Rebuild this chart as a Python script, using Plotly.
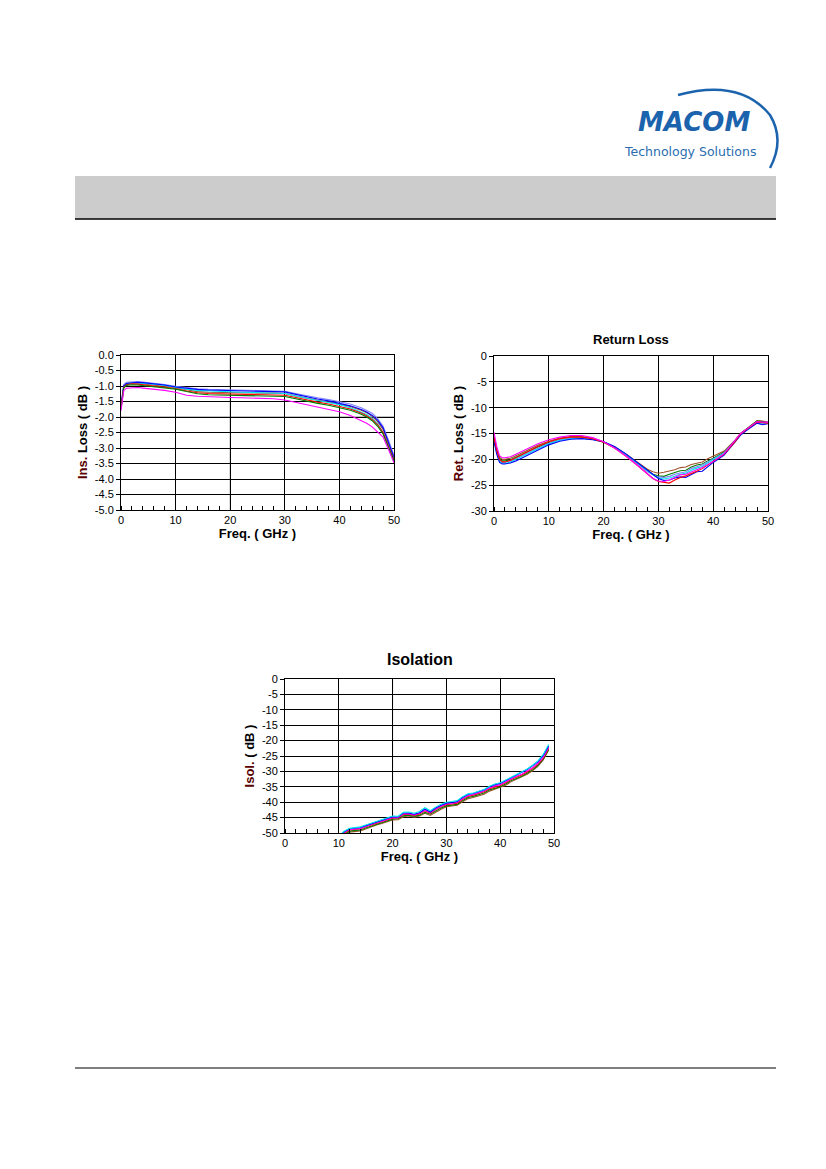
import plotly.graph_objects as go

W, H = 826, 1169

# ---------------- Insertion loss data ----------------
il_freq = [0, 0.5, 1, 2, 3, 4, 6, 8, 10, 12, 14, 16, 18, 20, 22, 24, 26, 28, 30,
           32, 34, 36, 38, 40, 42, 44, 45, 46, 47, 48, 49, 49.5, 50]
il_violet = [-1.60, -0.95, -0.88, -0.86, -0.86, -0.87, -0.90, -0.95, -1.01, -1.06, -1.09, -1.11, -1.12, -1.13, -1.14, -1.15, -1.15, -1.16, -1.17,
             -1.24, -1.32, -1.38, -1.44, -1.50, -1.58, -1.70, -1.78, -1.88, -2.05, -2.30, -2.75, -3.00, -3.25]
il_blue = [-1.65, -1.00, -0.92, -0.89, -0.88, -0.89, -0.92, -0.97, -1.03, -1.08, -1.11, -1.13, -1.14, -1.15, -1.16, -1.16, -1.17, -1.17, -1.19,
           -1.27, -1.35, -1.42, -1.48, -1.55, -1.64, -1.76, -1.84, -1.95, -2.10, -2.35, -2.80, -3.05, -3.30]
il_cyan = [-1.70, -1.02, -0.93, -0.90, -0.90, -0.91, -0.94, -0.98, -1.05, -1.10, -1.14, -1.16, -1.18, -1.19, -1.20, -1.21, -1.22, -1.22, -1.24,
           -1.32, -1.40, -1.47, -1.53, -1.60, -1.70, -1.83, -1.92, -2.04, -2.22, -2.50, -2.95, -3.25, -3.45]
il_brown = [-1.68, -1.00, -0.92, -0.90, -0.91, -0.93, -0.96, -1.00, -1.05, -1.12, -1.18, -1.20, -1.21, -1.22, -1.22, -1.23, -1.23, -1.23, -1.24,
            -1.32, -1.40, -1.46, -1.52, -1.58, -1.66, -1.78, -1.86, -1.98, -2.15, -2.40, -2.85, -3.10, -3.35]
il_red = [-1.72, -1.05, -0.96, -0.93, -0.94, -0.96, -0.99, -1.03, -1.08, -1.16, -1.22, -1.24, -1.25, -1.26, -1.27, -1.27, -1.28, -1.28, -1.30,
          -1.37, -1.45, -1.52, -1.58, -1.65, -1.74, -1.87, -1.96, -2.08, -2.25, -2.50, -2.95, -3.20, -3.40]
il_green = [-1.75, -1.07, -0.98, -0.96, -0.97, -0.99, -1.02, -1.06, -1.10, -1.18, -1.25, -1.28, -1.29, -1.30, -1.31, -1.31, -1.32, -1.32, -1.34,
            -1.41, -1.49, -1.56, -1.62, -1.69, -1.78, -1.91, -2.00, -2.12, -2.30, -2.55, -3.00, -3.22, -3.42]
il_magenta = [-1.80, -1.15, -1.07, -1.05, -1.05, -1.07, -1.10, -1.14, -1.20, -1.30, -1.33, -1.35, -1.36, -1.37, -1.38, -1.39, -1.40, -1.41, -1.45,
              -1.53, -1.61, -1.68, -1.75, -1.83, -1.95, -2.10, -2.20, -2.32, -2.48, -2.65, -3.05, -3.30, -3.48]

# ---------------- Return loss data ----------------
rl_freq = [0, 0.5, 1, 1.5, 2, 3, 4, 6, 8, 10, 12, 14, 16, 18, 20, 22, 24, 26, 28, 29, 30,
           31, 32, 33, 34, 35, 36, 37, 38, 39, 40, 42, 44, 45, 46, 47, 48, 49, 50]
rl_magenta = [-14.8, -17.5, -19.3, -19.7, -19.7, -19.5, -19.0, -18.0, -17.0, -16.2, -15.7, -15.4, -15.4, -15.8, -16.6, -17.8, -19.3, -21.0, -22.9, -23.7, -24.2,
              -24.3, -24.0, -23.5, -23.0, -22.9, -22.4, -22.0, -21.6, -21.0, -20.4, -18.9, -16.4, -15.0, -14.2, -13.4, -12.7, -12.8, -12.8]
rl_brown = [-15.5, -18.0, -19.6, -20.0, -20.0, -19.8, -19.3, -18.3, -17.3, -16.5, -15.9, -15.6, -15.6, -15.9, -16.6, -17.6, -18.9, -20.4, -21.9, -22.4, -22.7,
            -22.5, -22.3, -22.0, -21.6, -21.5, -21.0, -20.8, -20.5, -19.9, -19.4, -18.4, -16.3, -15.0, -14.2, -13.3, -12.5, -12.6, -12.8]
rl_green = [-16.0, -18.3, -19.8, -20.3, -20.3, -20.1, -19.6, -18.6, -17.6, -16.8, -16.2, -15.9, -15.9, -16.1, -16.7, -17.7, -19.0, -20.6, -22.2, -22.9, -23.2,
            -23.3, -22.9, -22.5, -22.2, -22.1, -21.5, -21.1, -20.9, -20.3, -19.8, -18.6, -16.4, -15.0, -14.2, -13.4, -12.6, -12.7, -12.9]
rl_red = [-15.8, -18.3, -20.0, -20.5, -20.5, -20.2, -19.7, -18.6, -17.5, -16.6, -16.0, -15.7, -15.7, -16.0, -16.7, -17.8, -19.3, -21.0, -22.9, -23.7, -24.3,
          -24.5, -24.6, -24.0, -23.5, -23.2, -22.8, -22.3, -21.8, -21.1, -20.5, -19.0, -16.6, -15.1, -14.3, -13.5, -12.8, -12.9, -13.0]
rl_violet = [-16.1, -18.6, -20.2, -20.6, -20.6, -20.3, -19.8, -18.8, -17.8, -16.9, -16.2, -15.9, -15.9, -16.1, -16.6, -17.6, -19.0, -20.7, -22.4, -23.0, -23.4,
             -23.5, -23.3, -22.9, -22.6, -22.4, -21.8, -21.4, -21.1, -20.5, -19.9, -18.7, -16.5, -15.1, -14.3, -13.5, -12.8, -13.0, -12.9]
rl_cyan = [-16.2, -18.8, -20.4, -20.8, -20.8, -20.5, -20.0, -19.0, -17.9, -17.0, -16.3, -16.0, -15.9, -16.1, -16.6, -17.6, -19.0, -20.6, -22.3, -23.0, -23.6,
           -23.8, -23.6, -23.2, -22.9, -22.7, -22.1, -21.7, -21.4, -20.7, -20.1, -18.8, -16.6, -15.2, -14.4, -13.6, -12.9, -13.2, -12.8]
rl_blue = [-16.5, -19.0, -20.6, -20.9, -20.9, -20.7, -20.3, -19.3, -18.2, -17.2, -16.5, -16.1, -16.0, -16.2, -16.6, -17.5, -18.9, -20.5, -22.2, -23.0, -23.7,
           -24.1, -24.0, -23.6, -23.4, -23.5, -23.0, -22.4, -22.3, -21.4, -20.6, -19.2, -16.7, -15.3, -14.5, -13.7, -13.0, -13.3, -13.1]

# ---------------- Isolation data ----------------
iso_freq = [10, 11, 12, 13, 14, 15, 16, 17, 18, 19, 20, 21, 22, 23, 24, 25, 26, 27, 28, 29,
            30, 31, 32, 33, 34, 35, 36, 37, 38, 39, 40, 41, 42, 43, 44, 45, 46, 47, 48, 49]
iso_cyan = [-51.0, -49.4, -48.5, -48.3, -48.0, -47.4, -46.8, -46.2, -45.8, -45.0, -44.5, -44.6, -43.3, -43.2, -43.6, -43.0, -41.8, -42.8, -41.6, -40.7,
            -40.0, -39.8, -39.5, -38.2, -37.3, -37.0, -36.4, -35.9, -34.8, -34.1, -33.7, -32.8, -31.8, -30.9, -30.2, -29.2, -28.0, -26.6, -24.5, -21.3]
iso_blue = [-51.2, -49.6, -48.6, -48.4, -48.2, -47.6, -47.0, -46.4, -46.0, -45.2, -44.7, -44.8, -43.5, -43.5, -43.9, -43.4, -42.2, -43.2, -41.9, -41.0,
            -40.3, -40.1, -39.8, -38.5, -37.5, -37.2, -36.6, -36.0, -35.0, -34.3, -33.9, -33.0, -32.0, -31.1, -30.4, -29.4, -28.2, -26.9, -24.8, -21.8]
iso_magenta = [-51.5, -49.8, -48.9, -48.8, -48.5, -47.9, -47.2, -46.6, -46.2, -45.5, -45.0, -45.0, -43.8, -43.7, -44.1, -43.6, -42.6, -43.4, -42.2, -41.3,
               -40.6, -40.4, -40.0, -38.9, -37.9, -37.5, -37.0, -36.4, -35.4, -34.7, -34.3, -33.4, -32.4, -31.6, -30.9, -29.9, -28.8, -27.4, -25.4, -22.2]
iso_red = [-51.6, -50.0, -49.0, -48.9, -48.6, -48.0, -47.4, -46.8, -46.4, -45.7, -45.2, -45.1, -44.0, -43.9, -44.3, -43.8, -42.8, -43.6, -42.4, -41.5,
           -40.8, -40.6, -40.3, -39.1, -38.1, -37.7, -37.2, -36.6, -35.6, -35.0, -34.6, -33.7, -32.6, -31.9, -31.2, -30.2, -29.1, -27.7, -25.7, -22.5]
iso_green = [-52.0, -50.4, -49.4, -49.2, -49.0, -48.4, -47.8, -47.1, -46.7, -46.0, -45.5, -45.4, -44.4, -44.2, -44.6, -44.2, -43.3, -43.9, -42.8, -41.9,
             -41.2, -41.0, -40.7, -39.5, -38.5, -38.1, -37.6, -37.0, -36.0, -35.4, -35.0, -34.1, -33.0, -32.3, -31.6, -30.6, -29.5, -28.1, -26.0, -22.8]
iso_brown = [-52.3, -50.8, -49.7, -49.5, -49.3, -48.7, -48.0, -47.4, -46.9, -46.3, -45.8, -45.7, -44.7, -44.5, -44.9, -44.5, -43.6, -44.3, -43.2, -42.3,
             -41.5, -41.3, -41.0, -39.9, -38.9, -38.5, -38.0, -37.4, -36.4, -35.8, -35.3, -34.5, -33.4, -32.6, -31.9, -30.9, -29.8, -28.4, -26.3, -23.1]

# tick values / labels
il_yticks = [0.0, -0.5, -1.0, -1.5, -2.0, -2.5, -3.0, -3.5, -4.0, -4.5, -5.0]
il_ylabels = ["0.0", "-0.5", "-1.0", "-1.5", "-2.0", "-2.5", "-3.0", "-3.5", "-4.0", "-4.5", "-5.0"]
rl_yticks = [0, -5, -10, -15, -20, -25, -30]
iso_yticks = [0, -5, -10, -15, -20, -25, -30, -35, -40, -45, -50]
x_ticks = [0, 10, 20, 30, 40, 50]

COL = {
    "violet": "#8080ff", "blue": "#0000ff", "cyan": "#00e5ee", "brown": "#a0522d",
    "red": "#ff0000", "green": "#007f00", "magenta": "#ff00ff",
}

il_series = [("violet", il_violet), ("brown", il_brown), ("cyan", il_cyan), ("blue", il_blue),
             ("red", il_red), ("green", il_green), ("magenta", il_magenta)]
rl_series = [("brown", rl_brown), ("green", rl_green), ("violet", rl_violet), ("cyan", rl_cyan),
             ("blue", rl_blue), ("red", rl_red), ("magenta", rl_magenta)]
iso_series = [("brown", iso_brown), ("green", iso_green), ("red", iso_red), ("magenta", iso_magenta),
              ("blue", iso_blue), ("cyan", iso_cyan)]


def fx(px):
    return px / W


def fy(py):
    return 1 - py / H


fig = go.Figure()

for name, ys in il_series:
    fig.add_trace(go.Scatter(x=il_freq, y=ys, mode="lines", line=dict(color=COL[name], width=1.1),
                             xaxis="x", yaxis="y", showlegend=False))
for name, ys in rl_series:
    fig.add_trace(go.Scatter(x=rl_freq, y=ys, mode="lines", line=dict(color=COL[name], width=1.1),
                             xaxis="x2", yaxis="y2", showlegend=False))
for name, ys in iso_series:
    fig.add_trace(go.Scatter(x=iso_freq, y=ys, mode="lines", line=dict(color=COL[name], width=1.1),
                             xaxis="x3", yaxis="y3", showlegend=False))

FONT = "Liberation Sans, Arial, sans-serif"
tickfont = dict(family=FONT, size=11, color="#000")
titlefont = dict(family=FONT, size=13, color="#000", weight="bold")


def xax(domain, anchor):
    return dict(domain=domain, anchor=anchor, range=[0, 50], tickvals=x_ticks, ticks="",
                showgrid=True, gridcolor="#000", gridwidth=1, zeroline=False,
                showline=True, linecolor="#000", linewidth=1, mirror=True,
                tickfont=tickfont, ticklen=0, automargin=False,
                minor=dict(dtick=2, ticks="inside", ticklen=4, tickcolor="#000", showgrid=False),
                title=dict(text="Freq. ( GHz )", font=titlefont, standoff=2))


def yax(domain, anchor, rng, tv, tt, title):
    return dict(domain=domain, anchor=anchor, range=rng, tickvals=tv, ticktext=tt,
                ticks="outside", ticklen=4, tickcolor="#000", automargin=False,
                showgrid=True, gridcolor="#000", gridwidth=1, zeroline=False,
                showline=True, linecolor="#000", linewidth=1, mirror=True,
                tickfont=tickfont,
                title=dict(text=title, font=titlefont, standoff=4))


d_il_x = [fx(121), fx(394)]
d_il_y = [fy(510), fy(355)]
d_rl_x = [fx(494), fx(768)]
d_rl_y = [fy(511), fy(356)]
d_is_x = [fx(285), fx(554)]
d_is_y = [fy(833), fy(679)]

fig.update_layout(
    template="none",
    width=W, height=H, autosize=False,
    margin=dict(l=0, r=0, t=0, b=0, pad=0, autoexpand=False),
    paper_bgcolor="white", plot_bgcolor="white",
    font=dict(family=FONT, size=11, color="#000"),
    xaxis=xax(d_il_x, "y"),
    yaxis=yax(d_il_y, "x", [-5, 0], il_yticks, il_ylabels,
              "<span style='color:#5a0000'>Ins.</span> Loss ( dB )"),
    xaxis2=xax(d_rl_x, "y2"),
    yaxis2=yax(d_rl_y, "x2", [-30, 0], rl_yticks, [str(v) for v in rl_yticks],
               "<span style='color:#5a0000'>Ret.</span> Loss ( dB )"),
    xaxis3=xax(d_is_x, "y3"),
    yaxis3=yax(d_is_y, "x3", [-50, 0], iso_yticks, [str(v) for v in iso_yticks],
               "<span style='color:#5a0000'>Isol.</span> ( dB )"),
    showlegend=False,
)

shapes = []
# header gray band
shapes.append(dict(type="rect", xref="paper", yref="paper", x0=fx(75), x1=fx(776), y0=fy(219), y1=fy(176),
                   fillcolor="#cccccc", line=dict(width=0), layer="below"))
shapes.append(dict(type="line", xref="paper", yref="paper", x0=fx(75), x1=fx(776), y0=fy(219), y1=fy(219),
                   line=dict(color="#000", width=1.5)))
# footer line
shapes.append(dict(type="line", xref="paper", yref="paper", x0=fx(75), x1=fx(776), y0=fy(1068), y1=fy(1068),
                   line=dict(color="#000", width=1)))
# gray gridlines (as in the reference rendering)
shapes.append(dict(type="line", xref="x", yref="y domain", x0=20, x1=20, y0=0, y1=1,
                   line=dict(color="#888", width=1), layer="below"))
for v in [-2.0, -2.5]:
    shapes.append(dict(type="line", xref="x domain", yref="y", x0=0, x1=1, y0=v, y1=v,
                       line=dict(color="#888", width=1), layer="below"))
shapes.append(dict(type="line", xref="x3", yref="y3 domain", x0=20, x1=20, y0=0, y1=1,
                   line=dict(color="#888", width=1), layer="below"))
# logo arc
arc = "M {},{} Q {},{} {},{} Q {},{} {},{}".format(
    fx(678), fy(95), fx(740), fy(78), fx(770), fy(115), fx(785), fy(140), fx(770), fy(168))
shapes.append(dict(type="path", xref="paper", yref="paper", path=arc,
                   line=dict(color="#1b63ad", width=2.5)))
fig.update_layout(shapes=shapes)

annotations = [
    dict(text="<b>Return Loss</b>", x=fx(631), y=fy(339), xref="paper", yref="paper",
         showarrow=False, font=dict(family=FONT, size=13, color="#000"), xanchor="center", yanchor="middle"),
    dict(text="<b>Isolation</b>", x=fx(420), y=fy(660), xref="paper", yref="paper",
         showarrow=False, font=dict(family=FONT, size=16, color="#000"), xanchor="center", yanchor="middle"),
    dict(text="<b><i>MACOM</i></b>", x=fx(694), y=fy(122), xref="paper", yref="paper",
         showarrow=False, font=dict(family="DejaVu Sans, sans-serif", size=26, color="#1b63ad"),
         xanchor="center", yanchor="middle"),
    dict(text="Technology Solutions", x=fx(690), y=fy(151), xref="paper", yref="paper",
         showarrow=False, font=dict(family="DejaVu Sans, sans-serif", size=12.5, color="#2a6cb0"),
         xanchor="center", yanchor="middle"),
]
fig.update_layout(annotations=annotations)

fig.write_html("out.html",
               config=dict(displayModeBar=False),
               post_script="document.body.style.margin='0';document.body.style.padding='0';"
                           "document.documentElement.style.overflow='hidden';")
